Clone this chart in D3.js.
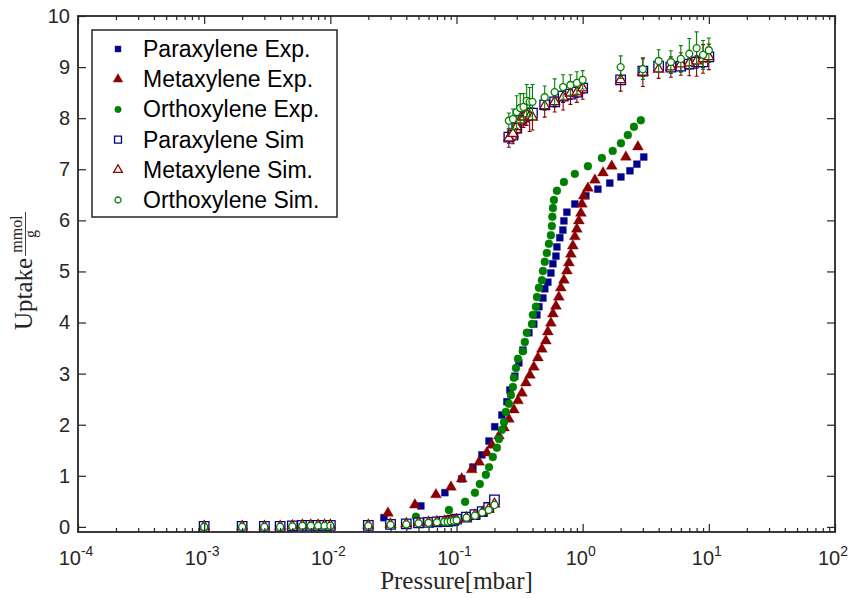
<!DOCTYPE html>
<html>
<head>
<meta charset="utf-8">
<script src="https://cdn.jsdelivr.net/npm/d3@7"></script>
<style>
  body { margin: 0; background: #fff; }
  #chart { width: 852px; height: 599px; }
  .tick-label { font-family: "Liberation Sans", Arial, sans-serif; fill: #262626; }
  .legend-text { font-family: "Liberation Sans", Arial, sans-serif; fill: #000; }
  .tex { font-family: "Liberation Serif", "Times New Roman", serif; fill: #262626; }
</style>
</head>
<body>
<div id="chart"></div>
<script>
// experimental isotherms (pressure in mbar, uptake in mmol/g)
const paraExpP = [0.0266, 0.0522, 0.0809, 0.110, 0.135, 0.159, 0.181, 0.201, 0.229, 0.251, 0.265, 0.290, 0.312, 0.336, 0.375, 0.410, 0.434, 0.450, 0.484, 0.501, 0.530, 0.560, 0.581, 0.614, 0.625, 0.659, 0.697, 0.710, 0.750, 0.867, 1.06, 1.32, 1.64, 2.01, 2.37, 2.69, 3.05];
const paraExpU = [0.18, 0.41, 0.67, 0.94, 1.17, 1.41, 1.68, 1.96, 2.19, 2.45, 2.68, 2.95, 3.21, 3.46, 3.80, 3.97, 4.15, 4.31, 4.48, 4.66, 4.79, 4.97, 5.15, 5.30, 5.48, 5.66, 5.81, 5.99, 6.16, 6.32, 6.48, 6.61, 6.73, 6.85, 6.97, 7.10, 7.24];

const metaExpP = [0.0286, 0.0468, 0.0687, 0.0904, 0.110, 0.132, 0.151, 0.174, 0.191, 0.217, 0.238, 0.260, 0.285, 0.307, 0.330, 0.355, 0.382, 0.410, 0.442, 0.475, 0.511, 0.530, 0.560, 0.581, 0.614, 0.647, 0.671, 0.710, 0.750, 0.778, 0.806, 0.836, 0.867, 0.899, 0.933, 0.968, 0.986, 1.02, 1.10, 1.25, 1.45, 1.70, 2.20, 2.74];
const metaExpU = [0.27, 0.43, 0.63, 0.78, 0.94, 1.12, 1.27, 1.45, 1.60, 1.78, 1.94, 2.11, 2.29, 2.47, 2.62, 2.82, 2.97, 3.13, 3.31, 3.48, 3.64, 3.82, 3.99, 4.17, 4.32, 4.50, 4.68, 4.83, 5.01, 5.17, 5.34, 5.50, 5.68, 5.83, 5.99, 6.14, 6.32, 6.48, 6.63, 6.79, 6.93, 7.06, 7.24, 7.44];

const orthoExpP = [0.0477, 0.0871, 0.117, 0.140, 0.153, 0.171, 0.181, 0.194, 0.209, 0.217, 0.229, 0.238, 0.246, 0.260, 0.270, 0.280, 0.285, 0.296, 0.307, 0.336, 0.348, 0.361, 0.396, 0.403, 0.426, 0.434, 0.450, 0.475, 0.484, 0.501, 0.520, 0.540, 0.560, 0.570, 0.575, 0.581, 0.592, 0.625, 0.710, 0.867, 1.10, 1.42, 1.73, 2.01, 2.28, 2.55, 2.89];
const orthoExpU = [0.20, 0.33, 0.49, 0.67, 0.84, 1.02, 1.17, 1.37, 1.55, 1.72, 1.90, 2.05, 2.25, 2.41, 2.58, 2.74, 2.92, 3.11, 3.29, 3.44, 3.62, 3.80, 3.97, 4.15, 4.31, 4.50, 4.68, 4.83, 5.01, 5.19, 5.36, 5.54, 5.71, 5.89, 6.07, 6.24, 6.40, 6.58, 6.75, 6.91, 7.06, 7.22, 7.36, 7.51, 7.67, 7.83, 7.96];

// simulated isotherms, shared pressure points
const simP = [0.001, 0.002, 0.003, 0.004, 0.005, 0.006, 0.007, 0.008, 0.009, 0.01, 0.02, 0.03, 0.04, 0.05, 0.06, 0.07, 0.08, 0.085, 0.09, 0.095, 0.1, 0.12, 0.14, 0.16, 0.18, 0.2,
  0.26, 0.28, 0.3, 0.32, 0.34, 0.36, 0.38, 0.4, 0.5, 0.6, 0.7, 0.8, 0.9, 1, 2, 3, 4, 5, 6, 7, 8, 9, 10];

const paraSimU = [0.01, 0.01, 0.01, 0.01, 0.02, 0.03, 0.03, 0.03, 0.03, 0.03, 0.03, 0.05, 0.06, 0.08, 0.09, 0.10, 0.11, 0.11, 0.12, 0.13, 0.15, 0.19, 0.24, 0.30, 0.38, 0.53,
  7.63, 7.67, 7.81, 7.96, 8.02, 8.06, 8.08, 8.10, 8.26, 8.32, 8.43, 8.47, 8.51, 8.59, 8.75, 8.92, 9.02, 9.00, 9.02, 9.06, 9.10, 9.10, 9.20];
const paraSimErr = [0.02, 0.02, 0.02, 0.02, 0.02, 0.02, 0.02, 0.02, 0.02, 0.02, 0.02, 0.02, 0.02, 0.02, 0.02, 0.02, 0.02, 0.02, 0.02, 0.02, 0.02, 0.03, 0.03, 0.03, 0.03, 0.04,
  0.12, 0.10, 0.10, 0.12, 0.10, 0.10, 0.12, 0.10, 0.10, 0.10, 0.12, 0.10, 0.10, 0.10, 0.08, 0.10, 0.10, 0.12, 0.10, 0.10, 0.12, 0.10, 0.10];

const metaSimU = [0.01, 0.01, 0.01, 0.01, 0.02, 0.03, 0.03, 0.03, 0.03, 0.03, 0.03, 0.05, 0.06, 0.08, 0.09, 0.10, 0.11, 0.11, 0.12, 0.12, 0.14, 0.18, 0.23, 0.28, 0.35, 0.45,
  7.61, 7.70, 7.83, 7.96, 8.02, 8.08, 8.04, 8.02, 8.24, 8.32, 8.41, 8.49, 8.51, 8.59, 8.75, 8.90, 8.96, 9.00, 9.06, 9.08, 9.12, 9.16, 9.20];
const metaSimErr = [0.04, 0.04, 0.04, 0.04, 0.04, 0.04, 0.04, 0.04, 0.04, 0.04, 0.04, 0.04, 0.04, 0.04, 0.04, 0.04, 0.04, 0.04, 0.04, 0.04, 0.04, 0.05, 0.05, 0.05, 0.05, 0.06,
  0.18, 0.20, 0.22, 0.25, 0.20, 0.22, 0.30, 0.25, 0.22, 0.20, 0.25, 0.22, 0.20, 0.22, 0.22, 0.28, 0.18, 0.20, 0.22, 0.25, 0.30, 0.28, 0.25];

const orthoSimU = [0.00, 0.00, 0.00, 0.00, 0.01, 0.02, 0.02, 0.02, 0.02, 0.02, 0.02, 0.04, 0.05, 0.07, 0.08, 0.09, 0.10, 0.10, 0.11, 0.12, 0.13, 0.18, 0.22, 0.28, 0.33, 0.43,
  7.95, 7.98, 8.12, 8.20, 8.22, 8.34, 8.32, 8.32, 8.41, 8.51, 8.61, 8.65, 8.69, 8.75, 9.00, 8.96, 9.12, 9.10, 9.16, 9.26, 9.37, 9.24, 9.33];
const orthoSimErr = [0.03, 0.03, 0.03, 0.03, 0.03, 0.03, 0.03, 0.03, 0.03, 0.03, 0.03, 0.03, 0.03, 0.03, 0.03, 0.03, 0.03, 0.03, 0.03, 0.03, 0.03, 0.04, 0.04, 0.04, 0.04, 0.05,
  0.15, 0.20, 0.32, 0.28, 0.26, 0.32, 0.28, 0.34, 0.22, 0.26, 0.24, 0.20, 0.22, 0.18, 0.22, 0.20, 0.22, 0.22, 0.26, 0.30, 0.32, 0.28, 0.24];

// axis ticks
const xExponents = [-4, -3, -2, -1, 0, 1, 2];
const yTicks = [0, 1, 2, 3, 4, 5, 6, 7, 8, 9, 10];

const legendNames = ['Paraxylene Exp.', 'Metaxylene Exp.', 'Orthoxylene Exp.', 'Paraxylene Sim', 'Metaxylene Sim.', 'Orthoxylene Sim.'];


class IsothermPlot {
  constructor (wrapperEl, width, height, margins) {
    this.width = width;
    this.height = height;
    this.margins = margins;
    this.svg = d3.select(wrapperEl).append('svg')
      .attr('width', width)
      .attr('height', height);
    this.left = margins.left;
    this.right = width - margins.right;
    this.top = margins.top;
    this.bottom = height - margins.bottom;
    this.x = d3.scaleLog().domain([1e-4, 1e2]).range([this.left, this.right]);
    this.y = d3.scaleLinear().domain([-0.1, 10]).range([this.bottom, this.top]);
  }

  zip (px, py, err) {
    return px.map((p, i) => ({ p: p, u: py[i], e: err ? err[i] : 0 }));
  }

  addExp (px, py, shape, size, color) {
    this.svg.append('g').selectAll('path')
      .data(this.zip(px, py))
      .join('path')
      .attr('d', d3.symbol().type(shape).size(size))
      .attr('transform', d => 'translate(' + this.x(d.p) + ',' + this.y(d.u) + ')')
      .attr('fill', color)
      .attr('stroke', color)
      .attr('stroke-width', 0.6)
      .attr('stroke-opacity', 0.6);
  }

  addSim (px, py, err, shape, size, color) {
    var g = this.svg.append('g');
    var pts = this.zip(px, py, err);
    var cap = 2;
    // error bars first, then markers on top
    g.append('g')
      .attr('stroke', color)
      .attr('stroke-width', 1.1)
      .selectAll('path')
      .data(pts)
      .join('path')
      .attr('fill', 'none')
      .attr('d', d => {
        var cx = this.x(d.p);
        var y0 = this.y(d.u - d.e), y1 = this.y(d.u + d.e);
        return 'M' + cx + ',' + y0 + 'V' + y1 +
          'M' + (cx - cap) + ',' + y0 + 'H' + (cx + cap) +
          'M' + (cx - cap) + ',' + y1 + 'H' + (cx + cap);
      });
    g.append('g').selectAll('path')
      .data(pts)
      .join('path')
      .attr('d', d3.symbol().type(shape).size(size))
      .attr('transform', d => 'translate(' + this.x(d.p) + ',' + this.y(d.u) + ')')
      .attr('fill', '#fff')
      .attr('stroke', color)
      .attr('stroke-width', 1.3);
  }

  addAxes () {
    var x = this.x, y = this.y;
    var majors = xExponents.map(e => Math.pow(10, e));
    var minors = x.ticks().filter(v => Math.abs(Math.log10(v) - Math.round(Math.log10(v))) > 1e-6);
    var axes = this.svg.append('g').attr('class', 'axes');

    var put = (gen, tx, ty) => {
      var g = axes.append('g')
        .attr('transform', 'translate(' + tx + ',' + ty + ')')
        .call(gen);
      g.select('.domain').remove();
      g.selectAll('line').attr('stroke', '#262626').attr('stroke-width', 1.2);
      return g;
    };

    put(d3.axisBottom(x).tickValues(majors).tickSize(-8).tickFormat(''), 0, this.bottom);
    put(d3.axisBottom(x).tickValues(minors).tickSize(-4).tickFormat(''), 0, this.bottom);
    put(d3.axisTop(x).tickValues(majors).tickSize(-8).tickFormat(''), 0, this.top);
    put(d3.axisTop(x).tickValues(minors).tickSize(-4).tickFormat(''), 0, this.top);
    put(d3.axisRight(y).tickValues(yTicks).tickSize(-8).tickFormat(''), this.right, 0);

    var left = put(d3.axisLeft(y).tickValues(yTicks).tickSize(-8).tickPadding(8), this.left, 0);
    left.selectAll('text')
      .attr('class', 'tick-label')
      .attr('font-family', null)
      .style('font-size', '20px');

    // x labels as 10 with a superscript exponent
    var lab = axes.append('g').selectAll('text')
      .data(xExponents)
      .join('text')
      .attr('class', 'tick-label')
      .attr('x', d => x(Math.pow(10, d)) - 2)
      .attr('y', this.bottom + 33)
      .attr('text-anchor', 'middle')
      .style('font-size', '20px');
    lab.append('tspan').text('10');
    lab.append('tspan')
      .attr('dy', -9)
      .style('font-size', '14px')
      .text(d => d < 0 ? '-' + Math.abs(d) : String(d));

    axes.append('rect')
      .attr('x', this.left)
      .attr('y', this.top)
      .attr('width', this.right - this.left)
      .attr('height', this.bottom - this.top)
      .attr('fill', 'none')
      .attr('stroke', '#262626')
      .attr('stroke-width', 1.8);
  }

  addLabels () {
    this.svg.append('text')
      .attr('class', 'tex')
      .attr('x', (this.left + this.right) / 2)
      .attr('y', 589)
      .attr('text-anchor', 'middle')
      .style('font-size', '25px')
      .text('Pressure[mbar]');

    var yl = this.svg.append('g').attr('transform', 'rotate(-90)');
    yl.append('text')
      .attr('class', 'tex')
      .attr('x', -330)
      .attr('y', 32)
      .style('font-size', '25px')
      .text('Uptake');
    yl.append('text')
      .attr('class', 'tex')
      .attr('x', -234)
      .attr('y', 22)
      .attr('text-anchor', 'middle')
      .style('font-size', '16px')
      .text('mmol');
    yl.append('line')
      .attr('x1', -256).attr('x2', -212)
      .attr('y1', 25.5).attr('y2', 25.5)
      .attr('stroke', '#262626')
      .attr('stroke-width', 0.9);
    yl.append('text')
      .attr('class', 'tex')
      .attr('x', -234)
      .attr('y', 36)
      .attr('text-anchor', 'middle')
      .style('font-size', '16px')
      .text('g');
  }

  addLegend (items) {
    var lg = this.svg.append('g');
    lg.append('rect')
      .attr('x', 92).attr('y', 30)
      .attr('width', 245).attr('height', 187)
      .attr('fill', '#fff')
      .attr('stroke', '#262626')
      .attr('stroke-width', 1.5);
    var row = lg.selectAll('g.row')
      .data(items)
      .join('g')
      .attr('class', 'row')
      .attr('transform', (d, i) => 'translate(0,' + (49 + i * 30.2) + ')');
    row.append('path')
      .attr('transform', 'translate(118,0)')
      .attr('d', d => d3.symbol().type(d.shape).size(d.size * 0.75)())
      .attr('fill', d => d.open ? '#fff' : d.color)
      .attr('stroke', d => d.color)
      .attr('stroke-width', d => d.open ? 1.3 : 0.5);
    row.append('text')
      .attr('class', 'legend-text')
      .attr('x', 143)
      .attr('dy', '0.35em')
      .style('font-size', '23px')
      .text(d => d.name);
  }
}


const blue = '#00008b';
const red = '#8b0000';
const green = '#008000';

const plot = new IsothermPlot('#chart', 852, 599, { top: 16, right: 17, bottom: 67, left: 78 });

plot.addExp(paraExpP, paraExpU, d3.symbolSquare, 48, blue);
plot.addExp(metaExpP, metaExpU, d3.symbolTriangle, 52, red);
plot.addExp(orthoExpP, orthoExpU, d3.symbolCircle, 50, green);

plot.addSim(simP, paraSimU, paraSimErr, d3.symbolSquare, 90, blue);
plot.addSim(simP, metaSimU, metaSimErr, d3.symbolTriangle, 42, red);
plot.addSim(simP, orthoSimU, orthoSimErr, d3.symbolCircle, 38, green);

plot.addAxes();
plot.addLabels();

plot.addLegend([
  { name: legendNames[0], shape: d3.symbolSquare, size: 46, color: blue },
  { name: legendNames[1], shape: d3.symbolTriangle, size: 52, color: red },
  { name: legendNames[2], shape: d3.symbolCircle, size: 44, color: green },
  { name: legendNames[3], shape: d3.symbolSquare, size: 64, color: blue, open: true },
  { name: legendNames[4], shape: d3.symbolTriangle, size: 44, color: red, open: true },
  { name: legendNames[5], shape: d3.symbolCircle, size: 38, color: green, open: true }
]);
</script>
</body>
</html>
